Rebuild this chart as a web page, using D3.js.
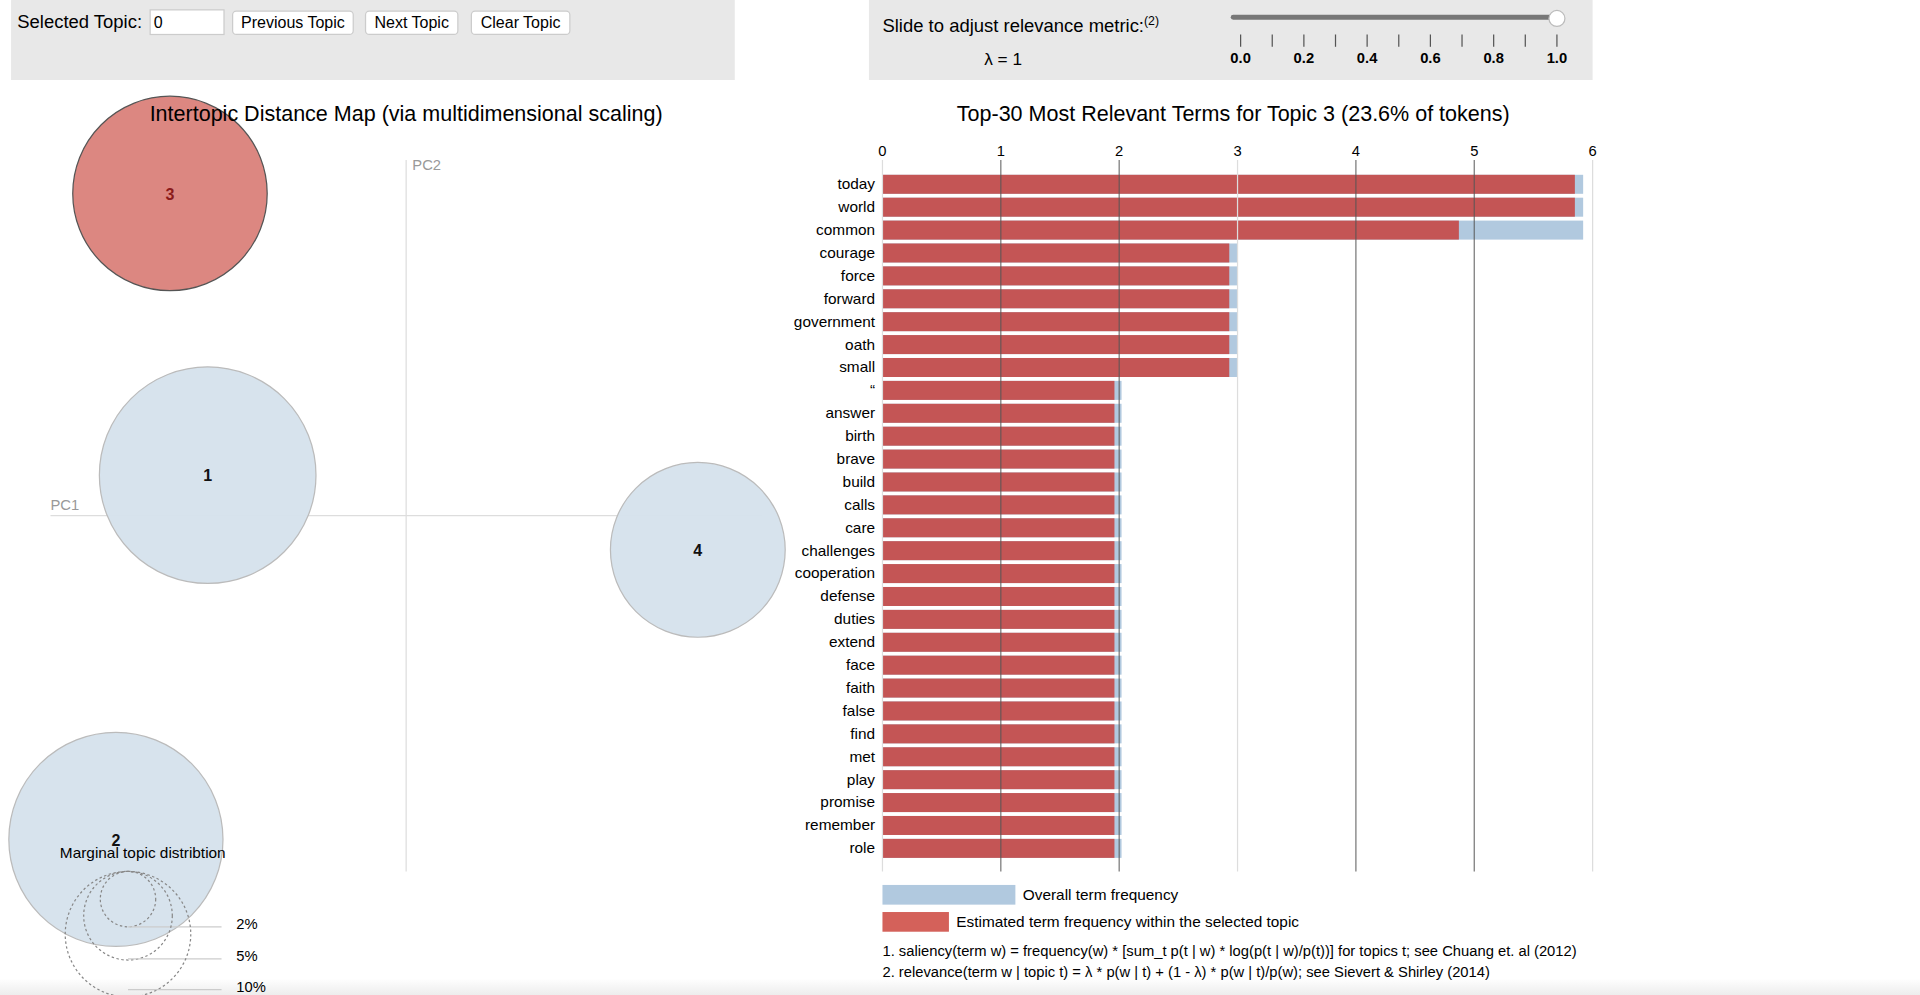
<!DOCTYPE html>
<html><head><meta charset="utf-8">
<script src="https://cdn.jsdelivr.net/npm/d3@7"></script>
<style>body{margin:0;background:#fff;overflow:hidden}svg{display:block;font-family:"Liberation Sans",Arial,sans-serif}</style>
</head><body>
<svg id="c" width="1920" height="995" viewBox="0 0 1560 808.4"></svg>
<script>
const topics=["1","2","3","4"];
const topicX=[-0.279,-0.408,-0.332,0.41];
const topicY=[0.057,-0.455,0.453,-0.048];
const topicR=[88,87,79,71];
const terms=["today","world","common","courage","force","forward","government","oath","small","“","answer","birth","brave","build","calls","care","challenges","cooperation","defense","duties","extend","face","faith","false","find","met","play","promise","remember","role"];
const topicFreq=[5.85,5.85,4.87,2.93,2.93,2.93,2.93,2.93,2.93,1.96,1.96,1.96,1.96,1.96,1.96,1.96,1.96,1.96,1.96,1.96,1.96,1.96,1.96,1.96,1.96,1.96,1.96,1.96,1.96,1.96];
const overallFreq=[5.92,5.92,5.92,3.0,3.0,3.0,3.0,3.0,3.0,2.02,2.02,2.02,2.02,2.02,2.02,2.02,2.02,2.02,2.02,2.02,2.02,2.02,2.02,2.02,2.02,2.02,2.02,2.02,2.02,2.02];
const xTicks=[0,1,2,3,4,5,6];
const lambdaTicks=[0,0.1,0.2,0.3,0.4,0.5,0.6,0.7,0.8,0.9,1.0];
const marginPct=["2%","5%","10%"];
const marginR=[22.5,36,51];

const svg=d3.select("#c");
const defs=svg.append("defs");
const g0=defs.append("linearGradient").attr("id","bg").attr("x1",0).attr("x2",0).attr("y1",0).attr("y2",1);
g0.append("stop").attr("offset","0").attr("stop-color","#fff");
g0.append("stop").attr("offset","1").attr("stop-color","#ececec");
svg.append("rect").attr("x",0).attr("y",795).attr("width",1560).attr("height",14).attr("fill","url(#bg)");

svg.append("rect").attr("x",9).attr("y",0).attr("width",588).attr("height",65).attr("fill","#e8e8e8");
svg.append("rect").attr("x",706).attr("y",0).attr("width",588).attr("height",65).attr("fill","#e8e8e8");
svg.append("text").attr("x",14).attr("y",23).attr("font-size",15).text("Selected Topic:");
svg.append("rect").attr("x",122).attr("y",8).attr("width",60).attr("height",20).attr("fill","#fff").attr("stroke","#ccc");
svg.append("text").attr("x",125).attr("y",23).attr("font-size",13).text("0");
[["Previous Topic",189,98],["Next Topic",297,75],["Clear Topic",383,80]].forEach(([t,x,w])=>{
  svg.append("rect").attr("x",x).attr("y",9).attr("width",w).attr("height",19).attr("rx",3).attr("fill","#fff").attr("stroke","#ccc");
  svg.append("text").attr("x",x+w/2).attr("y",23).attr("text-anchor","middle").attr("font-size",13).text(t);
});
const st=svg.append("text").attr("x",717).attr("y",26).attr("font-size",15).text("Slide to adjust relevance metric:");
st.append("tspan").attr("font-size",10).attr("dy",-6).text("(2)");
svg.append("text").attr("x",815).attr("y",53).attr("text-anchor","middle").attr("font-size",14).text("λ = 1");
const ls=d3.scaleLinear().domain([0,1]).range([1008,1265]);
svg.append("rect").attr("x",1000).attr("y",12).attr("width",268).attr("height",4).attr("rx",2).attr("fill","#777");
svg.append("circle").attr("cx",ls(1)).attr("cy",15).attr("r",6.5).attr("fill","#fff").attr("stroke","#bbb");
lambdaTicks.forEach((v,i)=>{
  svg.append("line").attr("x1",ls(v)).attr("x2",ls(v)).attr("y1",28).attr("y2",38).attr("stroke","#555");
  if(i%2===0) svg.append("text").attr("x",ls(v)).attr("y",51).attr("text-anchor","middle").attr("font-size",12).attr("font-weight","bold").text(v.toFixed(1));
});

const xs=d3.scaleLinear().domain([-0.5,0.5]).range([41,619]);
const ys=d3.scaleLinear().domain([-0.5,0.5]).range([708,130]);
svg.append("line").attr("x1",xs(0)).attr("x2",xs(0)).attr("y1",130).attr("y2",708).attr("stroke","#ddd");
svg.append("line").attr("x1",41).attr("x2",619).attr("y1",419).attr("y2",419).attr("stroke","#ddd");
svg.append("text").attr("x",335).attr("y",138).attr("font-size",12).attr("fill","#999").text("PC2");
svg.append("text").attr("x",41).attr("y",414).attr("font-size",12).attr("fill","#999").text("PC1");
topics.forEach((t,i)=>{
  const sel=t==="3";
  svg.append("circle").attr("cx",xs(topicX[i])).attr("cy",ys(topicY[i])).attr("r",topicR[i])
    .attr("fill",sel?"#dc8781":"#d5e1ec").attr("fill-opacity",sel?1:0.95).attr("stroke",sel?"#555":"#bbb");
  svg.append("text").attr("x",xs(topicX[i])).attr("y",ys(topicY[i])+5).attr("text-anchor","middle")
    .attr("font-size",13).attr("font-weight","bold").attr("fill",sel?"#8b1a1a":"#111").text(t);
});
svg.append("text").attr("x",330).attr("y",98).attr("text-anchor","middle").attr("font-size",17.5).text("Intertopic Distance Map (via multidimensional scaling)");
svg.append("text").attr("x",116).attr("y",697).attr("text-anchor","middle").attr("font-size",12.5).text("Marginal topic distribtion");
const yLab=[753,779,804];
marginR.forEach((r,i)=>{
  svg.append("circle").attr("cx",104).attr("cy",708+r).attr("r",r).attr("fill","none").attr("stroke","#888").attr("stroke-dasharray","2,2");
  svg.append("line").attr("x1",104).attr("x2",180).attr("y1",yLab[i]).attr("y2",yLab[i]).attr("stroke","#ccc");
  svg.append("text").attr("x",192).attr("y",yLab[i]+2).attr("font-size",12).text(marginPct[i]);
});

svg.append("text").attr("x",1002).attr("y",98).attr("text-anchor","middle").attr("font-size",17.5).text("Top-30 Most Relevant Terms for Topic 3 (23.6% of tokens)");
const bx=d3.scaleLinear().domain([0,6]).range([717,1294]);
const by=d3.scaleBand().domain(terms).range([142,697]).paddingInner(0.17);
const bars=svg.append("g");
bars.selectAll(".o").data(terms).join("rect").attr("x",bx(0)).attr("y",d=>by(d)).attr("height",by.bandwidth())
  .attr("width",(d,i)=>bx(overallFreq[i])-bx(0)).attr("fill","#b1c9df");
bars.selectAll(".t").data(terms).join("rect").attr("x",bx(0)).attr("y",d=>by(d)).attr("height",by.bandwidth())
  .attr("width",(d,i)=>bx(topicFreq[i])-bx(0)).attr("fill","#c45555");
xTicks.forEach(v=>{
  svg.append("line").attr("x1",bx(v)).attr("x2",bx(v)).attr("y1",130).attr("y2",708)
    .attr("stroke",(v===0||v===3||v===6)?"#ddd":"#555").attr("stroke-opacity",(v===0||v===3||v===6)?1:0.8);
  svg.append("text").attr("x",bx(v)).attr("y",127).attr("text-anchor","middle").attr("font-size",12).text(v);
});
terms.forEach(t=>{
  svg.append("text").attr("x",711).attr("y",by(t)+by.bandwidth()/2+4).attr("text-anchor","end").attr("font-size",12.5).text(t);
});
svg.append("rect").attr("x",717).attr("y",719).attr("width",108).attr("height",16).attr("fill","#b1c9df");
svg.append("text").attr("x",831).attr("y",731).attr("font-size",12.5).text("Overall term frequency");
svg.append("rect").attr("x",717).attr("y",741).attr("width",54).attr("height",16).attr("fill","#d4615a");
svg.append("text").attr("x",777).attr("y",753).attr("font-size",12.5).text("Estimated term frequency within the selected topic");
svg.append("text").attr("x",717).attr("y",777).attr("font-size",12).text("1. saliency(term w) = frequency(w) * [sum_t p(t | w) * log(p(t | w)/p(t))] for topics t; see Chuang et. al (2012)");
svg.append("text").attr("x",717).attr("y",794).attr("font-size",12).text("2. relevance(term w | topic t) = λ * p(w | t) + (1 - λ) * p(w | t)/p(w); see Sievert & Shirley (2014)");
</script>
</body></html>
